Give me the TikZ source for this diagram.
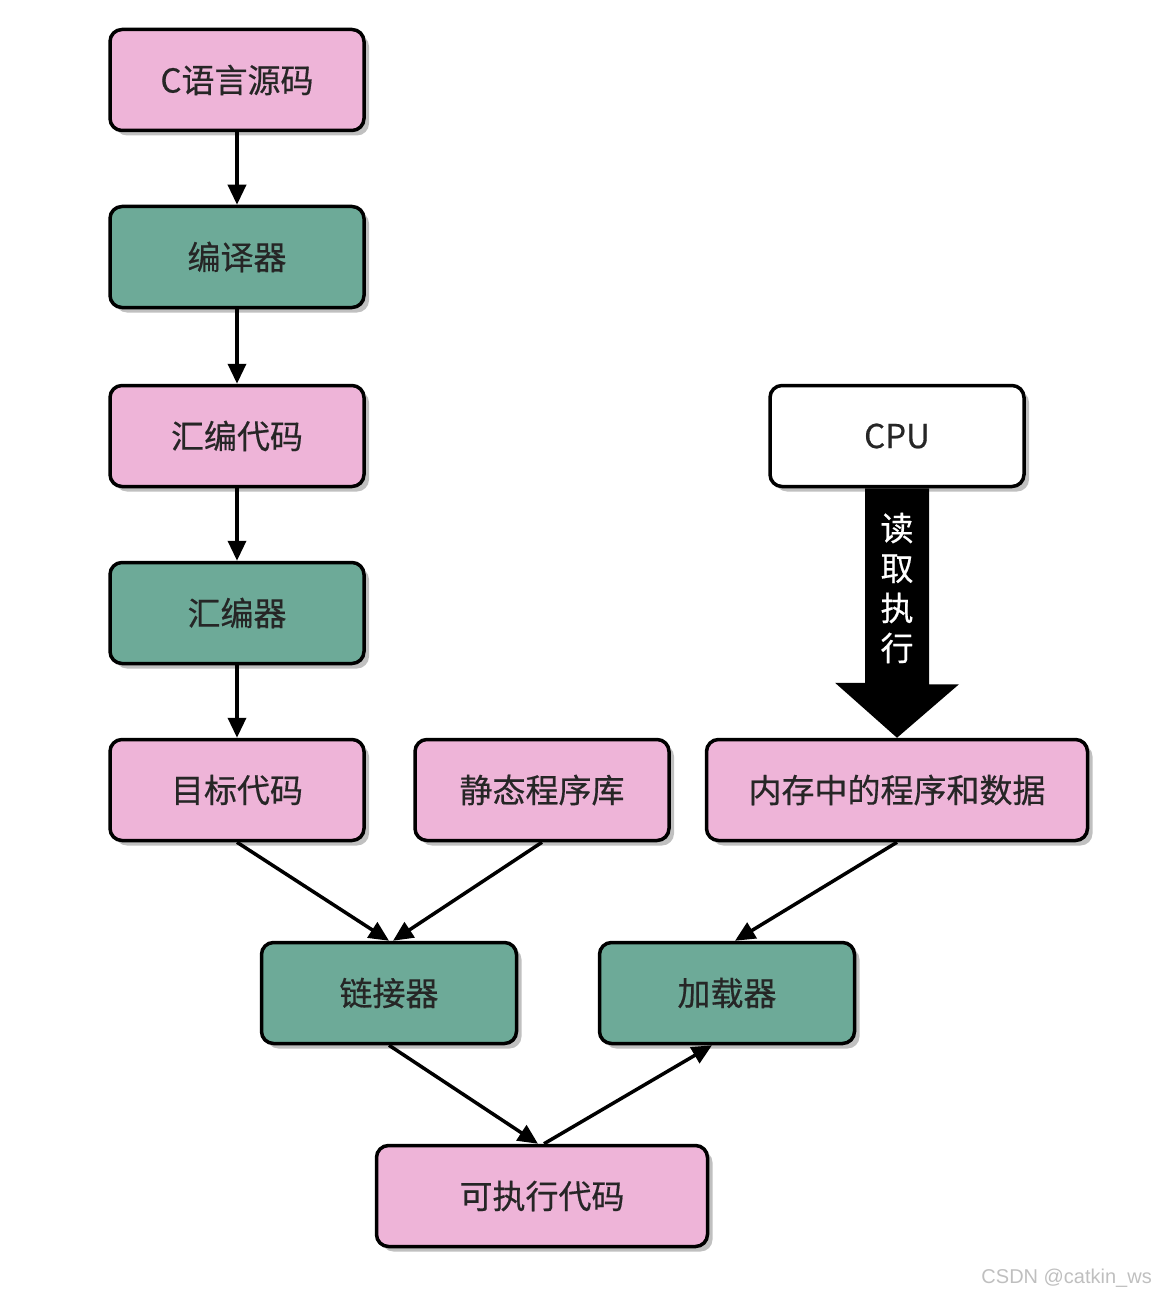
\documentclass[tikz,border=0pt]{standalone}
\usepackage{fontspec}
\setmainfont{Noto Sans CJK SC}
\newfontfamily\boxfont{Noto Sans CJK SC}[FakeBold=0.5]
\newfontfamily\wmfont{Liberation Sans}
\usetikzlibrary{shadows,arrows.meta}
\definecolor{pinkbox}{RGB}{238,180,216}
\definecolor{greenbox}{RGB}{109,170,152}
\definecolor{shadowgray}{RGB}{150,150,150}
\begin{document}
\begin{tikzpicture}[x=1pt,y=-1pt,
  box/.style={draw=black, line width=3.5pt, rounded corners=12pt, minimum height=101pt, inner sep=0pt,
    font=\boxfont\fontsize{33}{36}\selectfont, text=black!85,
    drop shadow={shadow xshift=5pt, shadow yshift=-5pt, fill=shadowgray, opacity=0.6}},
  pbox/.style={box, fill=pinkbox},
  gbox/.style={box, fill=greenbox},
  wbox/.style={box, fill=white},
  conn/.style={line width=3.5pt, -{Triangle[length=20pt,width=18pt]}}]
\useasboundingbox (0,0) rectangle (1157,1297);
\node[pbox, minimum width=254pt] (src) at (237,80) {C语言源码};
\node[gbox, minimum width=254pt] (cc) at (237,257) {编译器};
\node[pbox, minimum width=254pt] (asm) at (237,436) {汇编代码};
\node[gbox, minimum width=254pt] (as) at (237,613) {汇编器};
\node[pbox, minimum width=254pt] (obj) at (237,790) {目标代码};
\node[pbox, minimum width=254pt] (lib) at (542,790) {静态程序库};
\node[pbox, minimum width=381pt] (mem) at (897,790) {内存中的程序和数据};
\node[wbox, minimum width=254pt] (cpu) at (897,436) {CPU};
\node[gbox, minimum width=255pt] (ld) at (389,993) {链接器};
\node[gbox, minimum width=255pt] (load) at (727,993) {加载器};
\node[pbox, minimum width=331pt] (exe) at (542,1196) {可执行代码};

\draw[conn] (src) -- (cc);
\draw[conn] (cc) -- (asm);
\draw[conn] (asm) -- (as);
\draw[conn] (as) -- (obj);
\draw[conn] (obj.south) -- (ld.north);
\draw[conn] (lib.south) -- ([xshift=4pt]ld.north);
\draw[conn] (mem.south) -- ([xshift=8pt]load.north);
\draw[conn] (ld.south) -- ([xshift=-4pt]exe.north);
\draw[conn] ([xshift=2pt]exe.north) -- ([xshift=-15pt]load.south);

% big arrow
\fill[black] ([xshift=-32pt]cpu.south) -- ([xshift=32pt]cpu.south) -- ++(0,196) -- ++(30,0)
  -- (mem.north) -- ++(-62,-55) -- ++(30,0) -- cycle;
\node[text=white, font=\boxfont\fontsize{33}{40}\selectfont, align=center, inner sep=0pt] (rd) at (897,588) {读\\取\\执\\行};

\node[font=\wmfont\fontsize{20}{22}\selectfont, text=black!25, anchor=east, inner sep=0pt] (wm) at (1152,1278) {CSDN @catkin\_ws};
\end{tikzpicture}
\end{document}
